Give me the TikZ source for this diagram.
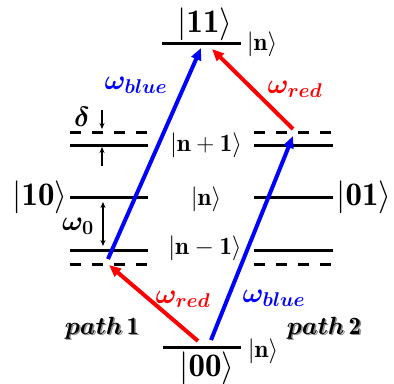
\RequirePackage{fix-cm}
\documentclass[tikz,border=0pt]{standalone}
\usepackage{amsmath,bm}
\usepackage{fontspec}
\usetikzlibrary{arrows.meta}
\newcommand{\wsub}[1]{\text{\fontsize{20}{24}\selectfont$\bm{#1}$}}
\begin{document}
\begin{tikzpicture}[x=1bp,y=-1bp,
  level/.style={line width=3bp},
  dlevel/.style={line width=3bp,dash pattern=on 11bp off 11bp},
  ket/.style={inner sep=0pt,font=\fontsize{33}{36}\selectfont},
  sket/.style={inner sep=0pt,font=\fontsize{25}{28}\selectfont},
  wlab/.style={inner sep=0pt,font=\fontsize{28}{32}\selectfont},
  plab/.style={inner sep=0pt,font=\fontsize{25}{28}\selectfont},
  shad/.style={plab,text=black!45},
  beam/.style={line width=4bp,-{Triangle[length=12bp,width=10bp]}},
  small/.style={line width=1.5bp,-{Stealth[length=6bp,width=5bp]}},
  smalld/.style={line width=1.5bp,{Stealth[length=6bp,width=5bp]}-{Stealth[length=6bp,width=5bp]}}]
\useasboundingbox (0,0) rectangle (394,384);
% level end points
\coordinate (t1) at (162,43); \coordinate (t2) at (241,43);
\coordinate (b1) at (163,347); \coordinate (b2) at (241,347);
\foreach \n/\y in {lA/132,lB/145,lC/197,lD/250,lE/264}{
  \coordinate (\n1) at (70,\y); \coordinate (\n2) at (148,\y);
  \coordinate (r\n1) at (254,\y); \coordinate (r\n2) at (333,\y);}
\draw[level] (t1) -- (t2);
\draw[level] (b1) -- (b2);
\draw[dlevel] (lA1) -- (lA2);
\draw[level] (lB1) -- (lB2);
\draw[level] (lC1) -- (lC2);
\draw[level] (lD1) -- (lD2);
\draw[dlevel] (lE1) -- (lE2);
\draw[dlevel] (rlA1) -- (rlA2);
\draw[level] (rlB1) -- (rlB2);
\draw[level] (rlC1) -- (rlC2);
\draw[level] (rlD1) -- (rlD2);
\draw[dlevel] (rlE1) -- (rlE2);
% kets
\node[ket] (k11) at (205,24) {$|\mathbf{11}\rangle$};
\node[ket] (k10) at (40,197) {$|\mathbf{10}\rangle$};
\node[ket] (k01) at (364,197) {$|\mathbf{01}\rangle$};
\node[ket] (k00) at (207,368) {$|\mathbf{00}\rangle$};
\node[sket] (nt) at (262,44) {$|\mathbf{n}\rangle$};
\node[sket] (nb) at (263,351) {$|\mathbf{n}\rangle$};
\node[sket] (np) at (206,145) {$|\mathbf{n}+\mathbf{1}\rangle$};
\node[sket] (nm) at (206,199) {$|\mathbf{n}\rangle$};
\node[sket] (nn) at (205,248) {$|\mathbf{n}-\mathbf{1}\rangle$};
% detuning and omega0
\node[wlab] (dl) at (82,117) {$\bm{\delta}$};
\coordinate (da1) at (102,110); \coordinate (da2) at (102,129);
\coordinate (ua1) at (102,166); \coordinate (ua2) at (102,147);
\draw[small] (da1) -- (da2);
\draw[small] (ua1) -- (ua2);
\node[wlab] (w0) at (78,226) {$\bm{\omega}_{\wsub{\mathbf{0}}}$};
\coordinate (oa1) at (103,202); \coordinate (oa2) at (103,246);
\draw[smalld] (oa1) -- (oa2);
% beams
\coordinate (b1s) at (108,259); \coordinate (b1e) at (201,48);
\coordinate (r1s) at (198,341); \coordinate (r1e) at (109,265);
\coordinate (b2s) at (211,340); \coordinate (b2e) at (293,136);
\coordinate (r2s) at (293,129); \coordinate (r2e) at (212,49);
\draw[beam,blue] (b1s) -- (b1e);
\draw[beam,red] (r1s) -- (r1e);
\draw[beam,blue] (b2s) -- (b2e);
\draw[beam,red] (r2s) -- (r2e);
% beam labels
\node[wlab,text=blue] (wb1) at (136,85) {$\bm{\omega}_{\wsub{blue}}$};
\node[wlab,text=red] (wr1) at (295,89) {$\bm{\omega}_{\wsub{red}}$};
\node[wlab,text=red] (wr2) at (183,299) {$\bm{\omega}_{\wsub{red}}$};
\node[wlab,text=blue] (wb2) at (274,298) {$\bm{\omega}_{\wsub{blue}}$};
% path labels (with soft shadow)
\node[shad] (p1s) at (103.5,329.5) {$\bm{path}\,\mathbf{1}$};
\node[plab] (p1) at (102,328) {$\bm{path}\,\mathbf{1}$};
\node[shad] (p2s) at (325.5,329.5) {$\bm{path}\,\mathbf{2}$};
\node[plab] (p2) at (324,328) {$\bm{path}\,\mathbf{2}$};
\end{tikzpicture}
\end{document}
